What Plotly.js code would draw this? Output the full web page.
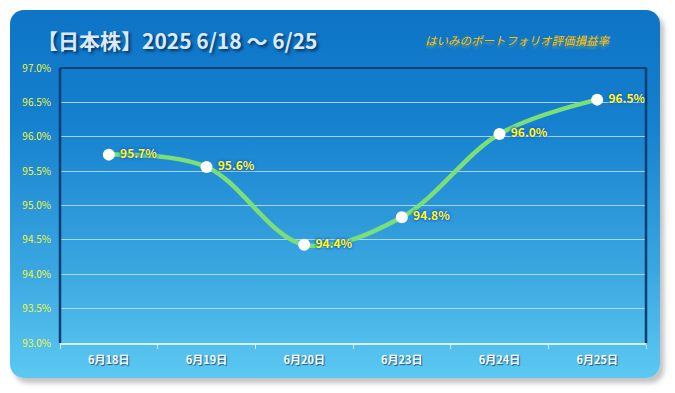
<!DOCTYPE html>
<html>
<head>
<meta charset="utf-8">
<script src="https://cdn.plot.ly/plotly-3.0.1.min.js"></script>
<style>
  html, body { margin: 0; padding: 0; background: #ffffff; }
  #wrap { position: relative; width: 675px; height: 393px; }
  #card {
    position: absolute; left: 10px; top: 10px; width: 650px; height: 368px;
    border-radius: 14px;
    background: linear-gradient(to bottom, #0D74C6 0%, #1580CE 30%, #3AA6E0 70%, #5CC9F2 100%);
    box-shadow: 4px 5px 5px rgba(120,120,120,0.45);
  }
  #chart { position: absolute; left: 0; top: 0; width: 675px; height: 393px; }
</style>
</head>
<body>
<div id="wrap">
  <div id="card"></div>
  <div id="chart"></div>
</div>
<script>
const categories = ["6月18日", "6月19日", "6月20日", "6月23日", "6月24日", "6月25日"];
const values = [95.74, 95.56, 94.43, 94.83, 96.04, 96.54];
const yTicks = [93.0, 93.5, 94.0, 94.5, 95.0, 95.5, 96.0, 96.5, 97.0];
const titleText = "【日本株】2025 6/18 ～ 6/25";
const subtitleText = "はいみのポートフォリオ評価損益率";

const jp = '"Noto Sans CJK JP", "Noto Sans", sans-serif';

const trace = {
  x: categories,
  y: values,
  type: "scatter",
  mode: "lines+markers+text",
  line: { shape: "spline", smoothing: 1.0, color: "#7ADF78", width: 4.5 },
  marker: { size: 12, color: "#ffffff", line: { width: 0 } },
  texttemplate: " %{y:.1f}%",
  textposition: "middle right",
  textfont: { family: jp, size: 12, color: "#FFFF00", weight: "bold",
              shadow: "0 0 3px #1F5FE8, 0 0 3px #1F5FE8, 0 0 2px #1F5FE8" },
  cliponaxis: false,
  hoverinfo: "skip"
};

const layout = {
  width: 675, height: 393,
  margin: { l: 60, r: 29, t: 68, b: 50 },
  paper_bgcolor: "rgba(0,0,0,0)",
  plot_bgcolor: "rgba(0,0,0,0)",
  showlegend: false,
  xaxis: {
    type: "category",
    range: [-0.5, 5.5],
    showgrid: false,
    zeroline: false,
    showline: true, linecolor: "#D8EEFA", linewidth: 1.5,
    ticks: "outside", tickson: "boundaries", ticklen: 4, tickcolor: "#D8EEFA",
    ticklabelstandoff: 6,
    tickfont: { family: jp, size: 11, color: "#ffffff", weight: "bold",
                shadow: "1px 1px 1px rgba(0,40,90,0.7)" },
    fixedrange: true
  },
  yaxis: {
    range: [93, 97],
    tickmode: "array",
    tickvals: yTicks,
    ticktext: yTicks.map(v => v.toFixed(1) + "%"),
    showgrid: true, gridcolor: "rgba(190,225,250,0.85)", gridwidth: 1,
    zeroline: false,
    showline: false,
    ticks: "", ticklabelstandoff: 8,
    tickfont: { family: jp, size: 10, color: "#F2F53A" },
    fixedrange: true
  },
  shapes: [
    { type: "line", xref: "paper", yref: "paper", x0: 0, x1: 0, y0: 0, y1: 1,
      line: { color: "#0B3F73", width: 2.5 }, layer: "above" },
    { type: "line", xref: "paper", yref: "paper", x0: 1, x1: 1, y0: 0, y1: 1,
      line: { color: "#0B3F73", width: 2.5 }, layer: "above" },
    { type: "line", xref: "paper", yref: "paper", x0: 0, x1: 1, y0: 1, y1: 1,
      line: { color: "#0B3F73", width: 2 }, layer: "below" }
  ],
  annotations: [
    { text: titleText, xref: "paper", yref: "paper", x: -0.043, y: 1.0, yshift: 28,
      xanchor: "left", yanchor: "middle", showarrow: false,
      font: { family: jp, size: 21, color: "#DCEAF8", weight: "bold",
              shadow: "2px 2px 3px rgba(0,30,70,0.75)" } },
    { text: subtitleText, xref: "paper", yref: "paper", x: 0.942, y: 1.0, yshift: 28,
      xanchor: "right", yanchor: "middle", showarrow: false,
      font: { family: jp, size: 11.5, color: "#FFC000", style: "italic",
              shadow: "0 3px 2px rgba(255,200,0,0.35)" } }
  ]
};

Plotly.newPlot("chart", [trace], layout, { displayModeBar: false, staticPlot: true });
</script>
</body>
</html>
